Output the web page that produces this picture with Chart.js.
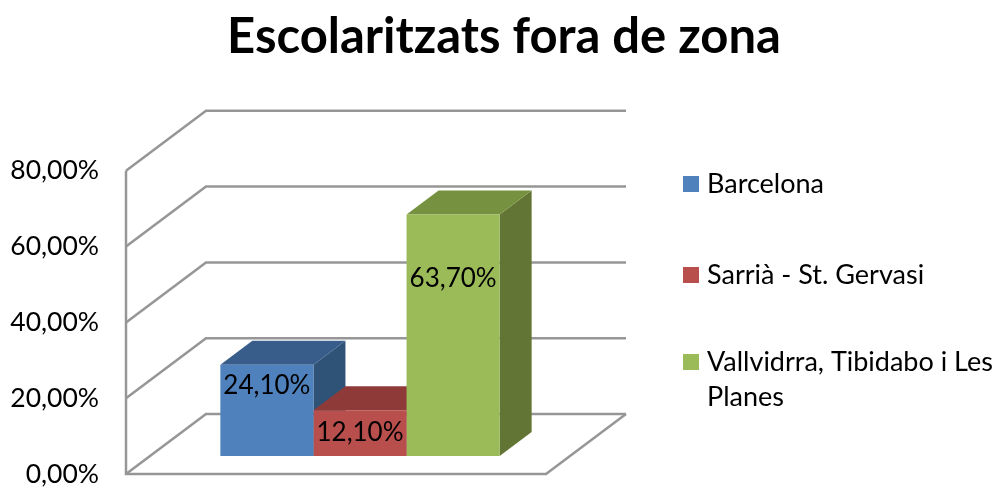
<!DOCTYPE html>
<html>
<head>
<meta charset="utf-8">
<title>Escolaritzats fora de zona</title>
<script src="https://cdn.jsdelivr.net/npm/chart.js@4"></script>
<style>
  html, body { margin: 0; padding: 0; background: #fff; }
  canvas { display: block; }
</style>
</head>
<body>
<canvas id="chart" width="998" height="489"></canvas>
<script>
// === Dades ===
const chartTitle = 'Escolaritzats fora de zona';
const categories = ['Escolaritzats fora de zona'];
const seriesNames = ['Barcelona', 'Sarrià - St. Gervasi', 'Vallvidrra, Tibidabo i Les Planes'];
const seriesValues = [24.1, 12.1, 63.7];
const axisTicks = [0, 20, 40, 60, 80];

// === Colors ===
const frontColors = ['#4f81bd', '#b94f4c', '#9bbb59'];
const topColors = ['#385d8a', '#8e3a38', '#769140'];
const sideColors = ['#2f5277', '#7a3130', '#627534'];
const gridColor = '#969696';

// === Perspectiva 3D ===
const wallDepth = { x: 80, y: -60 };
const barPlane = { x: 24, y: -18 };
const barDepth = { x: 32, y: -24 };
const labelDrop = [21, 22, 64];
const fontName = 'Lato, "Open Sans", sans-serif';

const fmtPct = (v) => v.toFixed(2).replace('.', ',') + '%';

const threeD = {
  id: 'threeD',
  afterLayout(chart) {
    // el títol va centrat sobre tota la imatge, no sobre l'àrea del gràfic
    chart.titleBlock.left = 0;
    chart.titleBlock.right = 1008;
  },
  beforeDatasetsDraw(chart) {
    const { ctx, chartArea: area, scales: { y } } = chart;

    // parets i terra
    ctx.save();
    ctx.strokeStyle = gridColor;
    ctx.lineWidth = 2.5;
    axisTicks.forEach((t) => {
      const py = y.getPixelForValue(t);
      ctx.beginPath();
      ctx.moveTo(area.left, py);
      ctx.lineTo(area.left + wallDepth.x, py + wallDepth.y);
      ctx.lineTo(area.right + wallDepth.x, py + wallDepth.y);
      ctx.stroke();
    });
    ctx.beginPath();
    ctx.moveTo(area.left, y.getPixelForValue(80));
    ctx.lineTo(area.left, area.bottom);
    ctx.lineTo(area.right, area.bottom);
    ctx.lineTo(area.right + wallDepth.x, area.bottom + wallDepth.y);
    ctx.stroke();
    ctx.restore();

    // cares superiors i laterals; la cara frontal la dibuixa Chart.js
    ctx.save();
    ctx.translate(barPlane.x, barPlane.y);
    seriesValues.forEach((_, i) => {
      const bar = chart.getDatasetMeta(i).data[0];
      const l = bar.x - bar.width / 2;
      const r = bar.x + bar.width / 2;

      ctx.fillStyle = sideColors[i];
      ctx.beginPath();
      ctx.moveTo(r, bar.y);
      ctx.lineTo(r + barDepth.x, bar.y + barDepth.y);
      ctx.lineTo(r + barDepth.x, bar.base + barDepth.y);
      ctx.lineTo(r, bar.base);
      ctx.closePath();
      ctx.fill();

      ctx.fillStyle = topColors[i];
      ctx.beginPath();
      ctx.moveTo(l, bar.y);
      ctx.lineTo(l + barDepth.x, bar.y + barDepth.y);
      ctx.lineTo(r + barDepth.x, bar.y + barDepth.y);
      ctx.lineTo(r, bar.y);
      ctx.closePath();
      ctx.fill();
    });
    // es manté la translació per a les barres
  },
  afterDatasetsDraw(chart) {
    const { ctx } = chart;

    // etiquetes de valor
    ctx.font = '26px ' + fontName;
    ctx.fillStyle = '#000';
    ctx.textAlign = 'center';
    ctx.textBaseline = 'middle';
    seriesValues.forEach((v, i) => {
      const bar = chart.getDatasetMeta(i).data[0];
      ctx.fillText(fmtPct(v), bar.x, bar.y + labelDrop[i]);
    });
    ctx.restore();

    // llegenda
    ctx.save();
    ctx.font = '27px ' + fontName;
    ctx.textAlign = 'left';
    ctx.textBaseline = 'middle';
    const rows = [['Barcelona'], ['Sarrià - St. Gervasi'], ['Vallvidrra, Tibidabo i Les', 'Planes']];
    const rowY = [184, 275, 362];
    rows.forEach((lines, i) => {
      ctx.fillStyle = frontColors[i];
      ctx.fillRect(683, rowY[i] - 8, 16, 16);
      ctx.fillStyle = '#000';
      lines.forEach((txt, k) => ctx.fillText(txt, 707, rowY[i] + k * 35));
    });
    ctx.restore();
  }
};

new Chart(document.getElementById('chart'), {
  type: 'bar',
  data: {
    labels: categories,
    datasets: seriesNames.map((name, i) => ({
      label: name,
      data: [seriesValues[i]],
      backgroundColor: frontColors[i],
      borderWidth: 0,
      clip: false
    }))
  },
  options: {
    responsive: false,
    animation: false,
    layout: { padding: { left: 0, right: 452, top: 0, bottom: 15 } },
    categoryPercentage: 0.665,
    barPercentage: 1,
    scales: {
      x: { display: false },
      y: {
        min: 0,
        max: 80,
        grid: { display: false, drawTicks: false },
        border: { display: false },
        afterBuildTicks(axis) { axis.ticks = axisTicks.map((value) => ({ value })); },
        afterFit(axis) {
          axis.width = 126;
          axis.paddingTop = 0;
          axis.paddingBottom = 0;
        },
        ticks: {
          padding: 27,
          color: '#000',
          font: { family: fontName, size: 26.5 },
          callback: (v) => fmtPct(v)
        }
      }
    },
    plugins: {
      legend: { display: false },
      tooltip: { enabled: false },
      title: {
        display: true,
        text: chartTitle,
        color: '#000',
        font: { family: fontName, size: 49, weight: 'bold' },
        padding: { top: 8, bottom: 104 }
      }
    }
  },
  plugins: [threeD]
});
</script>
</body>
</html>
